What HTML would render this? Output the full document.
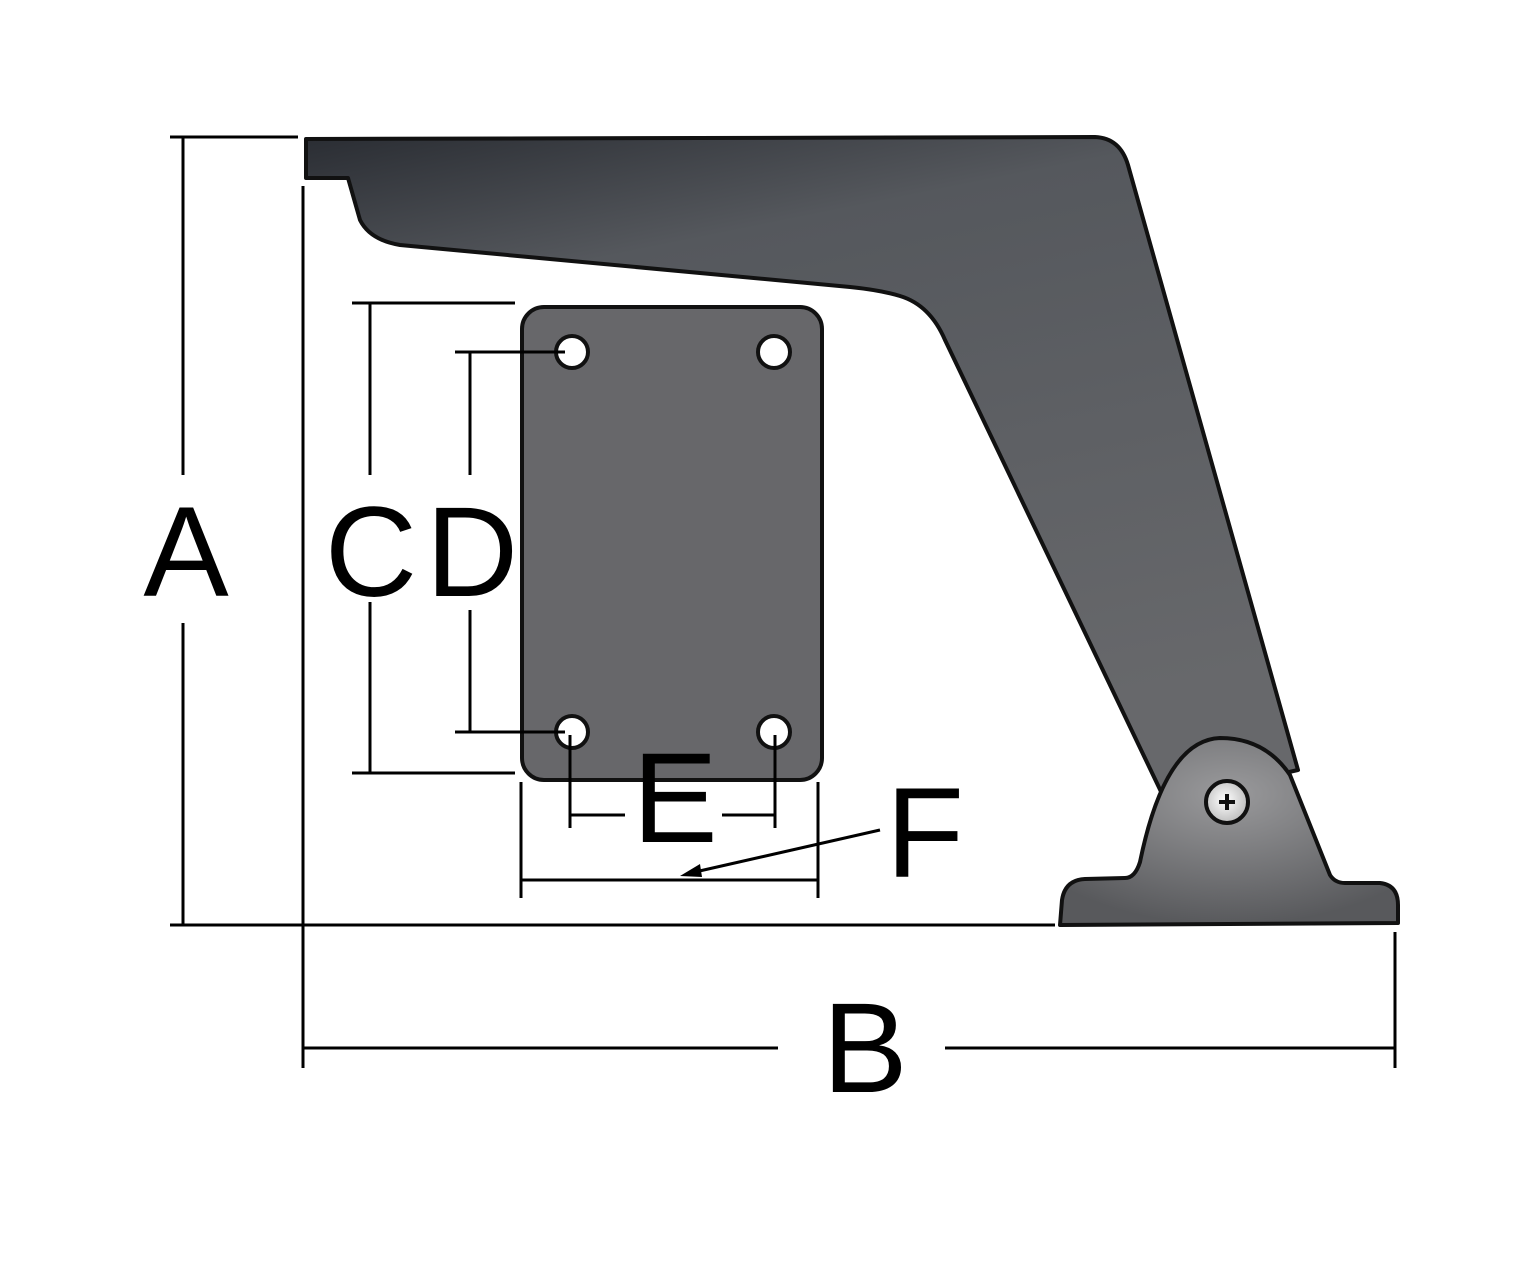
<!DOCTYPE html>
<html><head><meta charset="utf-8"><style>
html,body{margin:0;padding:0;background:#fff;}
svg{display:block;}
text{font-family:"Liberation Sans",sans-serif;fill:#000;}
</style></head><body>
<svg width="1536" height="1262" viewBox="0 0 1536 1262" xmlns="http://www.w3.org/2000/svg">
<defs>
<linearGradient id="arm" x1="0" y1="0" x2="0.3" y2="1">
<stop offset="0" stop-color="#2a2d33"/>
<stop offset="0.25" stop-color="#55585d"/>
<stop offset="1" stop-color="#67686b"/>
</linearGradient>
<radialGradient id="dome" cx="0.5" cy="0.3" r="0.7">
<stop offset="0" stop-color="#9a9a9c"/>
<stop offset="1" stop-color="#58595c"/>
</radialGradient>
<radialGradient id="screw" cx="0.45" cy="0.45" r="0.6">
<stop offset="0" stop-color="#fff"/>
<stop offset="1" stop-color="#b8b8b8"/>
</radialGradient>
</defs>
<!-- arm -->
<path d="M306,139 L1095,137 Q1120,138 1128,165 L1298,770 L1165,800 L945,340 Q930,305 900,296 Q880,290 850,287 L400,245 Q370,240 360,220 L348,178 L306,178 Z" fill="url(#arm)" stroke="#111" stroke-width="4" stroke-linejoin="round"/>
<!-- base -->
<path d="M1060,925 L1062,900 Q1065,880 1085,879 L1125,878 Q1135,878 1140,862 Q1165,740 1220,738 Q1265,738 1290,775 L1330,875 Q1335,883 1345,883 L1380,883 Q1398,885 1398,905 L1398,923 Z" fill="url(#dome)" stroke="#111" stroke-width="4" stroke-linejoin="round"/>
<circle cx="1227" cy="802" r="21" fill="url(#screw)" stroke="#111" stroke-width="4"/>
<path d="M1219,802 H1235 M1227,794 V810" stroke="#111" stroke-width="4"/>
<!-- plate -->
<rect x="522" y="307" width="300" height="473" rx="22" fill="#67676a" stroke="#111" stroke-width="4"/>
<g fill="#fff" stroke="#111" stroke-width="4">
<circle cx="572" cy="352" r="16"/><circle cx="774" cy="352" r="16"/>
<circle cx="572" cy="732" r="16"/><circle cx="774" cy="732" r="16"/>
</g>
<!-- dimension lines -->
<g stroke="#000" stroke-width="3" fill="none">
<path d="M170,137 H298 M183,137 V475 M183,623 V925 M170,925 H1055"/>
<path d="M303,186 V1068 M303,1048 H778 M945,1048 H1395 M1395,932 V1068"/>
<path d="M352,303 H515 M352,773 H515 M370,303 V475 M370,602 V773"/>
<path d="M455,352 H565 M455,732 H565 M470,352 V475 M470,610 V732"/>
<path d="M570,735 V828 M775,735 V828 M570,815 H625 M722,815 H775"/>
<path d="M521,782 V898 M818,782 V898 M521,880 H818"/>
<path d="M880,830 L695,872"/>
</g>
<path d="M680,876 L700,864 L702,877 Z" fill="#000"/>
<g font-size="128">
<text x="186" y="596" text-anchor="middle">A</text>
<text x="371" y="596" text-anchor="middle">C</text>
<text x="472" y="596" text-anchor="middle">D</text>
<text x="675" y="842" text-anchor="middle">E</text>
<text x="925" y="877" text-anchor="middle">F</text>
<text x="865" y="1092" text-anchor="middle">B</text>
</g>
</svg>
</body></html>
